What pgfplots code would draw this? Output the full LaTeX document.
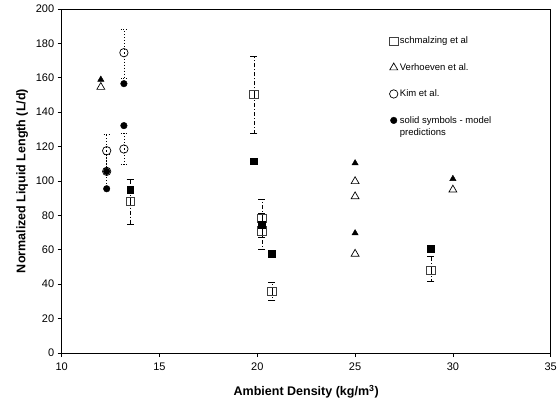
\documentclass[border=0pt]{standalone}
\usepackage{pgfplots}
\pgfplotsset{compat=1.18}
\usepackage{fontspec}
\setmainfont{Liberation Sans}
\begin{document}
\begin{tikzpicture}
\useasboundingbox (-61.7pt,-55pt) rectangle (497.3pt,353pt);
\begin{axis}[
  at={(0,0)}, anchor=south west,
  scale only axis, width=489pt, height=344pt,
  xmin=10, xmax=35, ymin=0, ymax=200,
  xtick={10,15,...,35}, ytick={0,20,...,200},
  tick align=outside, xtick pos=bottom, ytick pos=left,
  major tick length=4pt,
  axis line style={line width=0.9pt},
  tick style={line width=0.8pt, black},
  /pgf/number format/assume math mode=true,
  tick label style={font=\fontsize{11}{12}\selectfont},
  xticklabel style={yshift=-2pt},
  xlabel={\textbf{Ambient Density (kg/m$^{\mathbf{3}}$)}},
  ylabel={\textbf{Normalized Liquid Length (L/d)}},
  every axis x label/.style={at={(axis description cs:0.5,-0.113)}, anchor=center, font=\fontsize{12.5}{14}\selectfont},
  every axis y label/.style={at={(axis description cs:-0.081,0.5)}, rotate=90, anchor=center, font=\fontsize{12.5}{14}\selectfont},
  legend style={draw=none, fill=none, at={(axis description cs:0.67,0.925)}, anchor=north west,
    font=\fontsize{9.5}{10}\selectfont, row sep=14pt, inner sep=0pt},
  legend cell align=left,
  legend image code/.code={\draw[mark repeat=2,mark phase=2,#1] plot coordinates {(0pt,0pt)(4pt,0pt)(8pt,0pt)};},
]
% Schmalzing et al. (open squares)
\addplot[only marks, mark=square, mark size=4.2pt, black!75, line width=0.7pt,
  error bars/.cd, y dir=both, y explicit,
  error bar style={black, line width=0.7pt, dash pattern=on 4pt off 2pt on 1pt off 2pt},
  error mark=-, error mark options={rotate=90, black, solid, mark size=3.5pt, line width=0.8pt}]
coordinates {
 (13.5,88) += (0,12.7) -= (0,13.1)
 (19.83,150.3) += (0,22.3) -= (0,22.4)
 (20.24,78.4) += (0,11) -= (0,11.4)
 (20.24,71) += (0,10) -= (0,10.5)
 (20.75,36) += (0,5) -= (0,5.3)
 (28.88,48.2) += (0,7.8) -= (0,6.7)
};
\addlegendentry{schmalzing et al}
% Verhoeven et al. (open triangles)
\addplot[only marks, mark=triangle, mark size=4.6pt, black, line width=0.7pt]
coordinates {(12,154.6) (25,99.8) (25,91) (25,57.6) (30,94.9)};
\addlegendentry{Verhoeven et al.}
% Kim et al. (open circles)
\addplot[only marks, mark=o, mark size=4.2pt, black, line width=0.7pt,
  error bars/.cd, y dir=both, y explicit,
  error bar style={black, line width=0.8pt, dash pattern=on 1pt off 2pt},
  error mark=-, error mark options={rotate=90, black, dash pattern=on 1pt off 1.5pt, mark size=3pt, line width=0.8pt}]
coordinates {
 (12.3,117.6) += (0,9.4) -= (0,10)
 (12.3,105.6) += (0,10) -= (0,10)
 (13.18,174.6) += (0,13.4) -= (0,15)
 (13.18,118.6) += (0,9.3) -= (0,9.1)
};
\addlegendentry{Kim et al.}
% model predictions (filled)
\addplot[only marks, mark=*, mark size=3.3pt, black]
coordinates {(12.3,105.6) (12.3,95.5) (13.18,156.6) (13.18,132.2)};
\addlegendentry{\begin{tabular}[t]{@{}l@{}}solid symbols - model\\[2pt] predictions\end{tabular}}
\addplot[only marks, mark=square*, mark size=3.3pt, black, forget plot]
coordinates {(13.5,95) (19.83,111.4) (20.24,74.5) (20.75,57.6) (28.88,60.5)};
\addplot[only marks, mark=triangle*, mark size=3.6pt, black, forget plot]
coordinates {(12,159) (25,110.4) (25,69.7) (30,101.3)};
\end{axis}
\end{tikzpicture}
\end{document}
